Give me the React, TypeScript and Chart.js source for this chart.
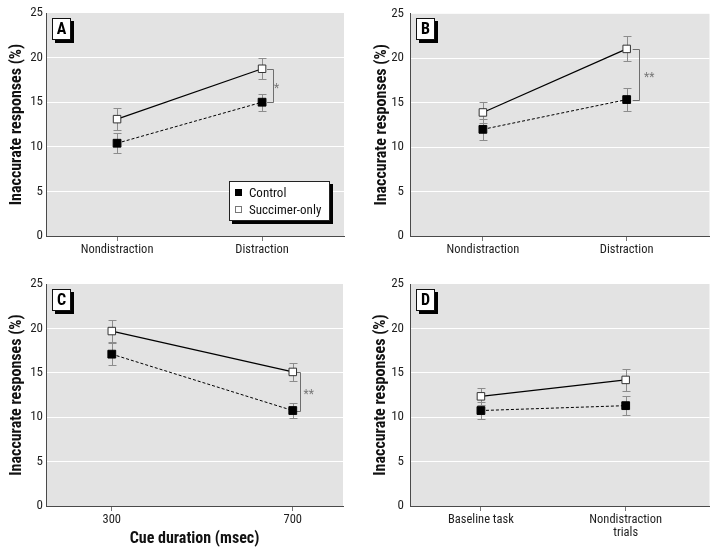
import React, { useEffect, useRef } from 'react';
import { Chart, registerables } from 'chart.js';
Chart.register(...registerables);

const FONT = '"Roboto Condensed", "DejaVu Sans Condensed", "Liberation Sans", Arial, sans-serif';

// ---------- data ----------
const seriesNames = ['Control', 'Succimer-only'];
const yTickValues = [0, 5, 10, 15, 20, 25];
const yAxisTitle = 'Inaccurate responses (%)';
const xAxisTitleC = 'Cue duration (msec)';

const categoriesA = ['Nondistraction', 'Distraction'];
const controlA = [10.4, 15.0];
const controlErrA = [1.1, 0.95];
const succimerA = [13.1, 18.75];
const succimerErrA = [1.2, 1.2];
const sigA = '*';

const categoriesB = ['Nondistraction', 'Distraction'];
const controlB = [12.0, 15.35];
const controlErrB = [1.15, 1.3];
const succimerB = [13.9, 21.05];
const succimerErrB = [1.2, 1.4];
const sigB = '**';

const categoriesC = ['300', '700'];
const controlC = [17.1, 10.75];
const controlErrC = [1.25, 0.8];
const succimerC = [19.7, 15.1];
const succimerErrC = [1.2, 1.0];
const sigC = '**';

const categoriesD: (string | string[])[] = ['Baseline task', ['Nondistraction', 'trials']];
const controlD = [10.75, 11.3];
const controlErrD = [0.95, 1.1];
const succimerD = [12.35, 14.2];
const succimerErrD = [0.95, 1.2];
const sigD = '';

// ---------- styles ----------
const PLOT_BG = '#e3e3e3';
const ERR_COLOR = '#8c8c8c';
const AXIS_COLOR = '#4a4a4a';
const TICK_COLOR = '#1e1e1e';

type Panel = {
  letter: string;
  left: number; top: number; width: number; height: number;
  area: { left: number; right: number; top: number; bottom: number };
  xMin: number; xMax: number;
  categories: (string | string[])[];
  control: number[]; controlErr: number[];
  succimer: number[]; succimerErr: number[];
  sig: string;
  bracketOff: number; bracketTick: number; sigOff: number;
  yTickPad: number; yTitlePad: number;
  xTitle?: string;
  legend?: boolean;
};

const panels: Panel[] = [
  {
    letter: 'A', left: 0, top: 0, width: 358, height: 270,
    area: { left: 46, right: 344, top: 13, bottom: 236 },
    xMin: -0.49, xMax: 1.565, categories: categoriesA,
    control: controlA, controlErr: controlErrA, succimer: succimerA, succimerErr: succimerErrA,
    sig: sigA, bracketOff: 11, bracketTick: 5, sigOff: 14.5, yTickPad: 3, yTitlePad: 7, legend: true,
  },
  {
    letter: 'B', left: 358, top: 0, width: 358, height: 270,
    area: { left: 52, right: 352, top: 13, bottom: 236 },
    xMin: -0.507, xMax: 1.576, categories: categoriesB,
    control: controlB, controlErr: controlErrB, succimer: succimerB, succimerErr: succimerErrB,
    sig: sigB, bracketOff: 12, bracketTick: 6, sigOff: 22.5, yTickPad: 6, yTitlePad: 14,
  },
  {
    letter: 'C', left: 0, top: 270, width: 358, height: 279,
    area: { left: 46, right: 343, top: 14, bottom: 236 },
    xMin: -0.3635, xMax: 1.2775, categories: categoriesC,
    control: controlC, controlErr: controlErrC, succimer: succimerC, succimerErr: succimerErrC,
    sig: sigC, bracketOff: 7.5, bracketTick: 3.5, sigOff: 16, yTickPad: 3, yTitlePad: 7, xTitle: xAxisTitleC,
  },
  {
    letter: 'D', left: 358, top: 270, width: 358, height: 279,
    area: { left: 52, right: 352, top: 14, bottom: 236 },
    xMin: -0.49, xMax: 1.579, categories: categoriesD,
    control: controlD, controlErr: controlErrD, succimer: succimerD, succimerErr: succimerErrD,
    sig: sigD, bracketOff: 0, bracketTick: 0, sigOff: 0, yTickPad: 6, yTitlePad: 13,
  },
];

function PanelChart({ c }: { c: Panel }) {
  const ref = useRef<HTMLCanvasElement>(null);
  useEffect(() => {
    const canvas = ref.current!;
    const bg = {
      id: 'bg',
      beforeDraw(chart: any) {
        const { ctx, chartArea: a } = chart;
        ctx.save();
        ctx.fillStyle = PLOT_BG;
        ctx.fillRect(a.left, a.top, a.right - a.left, a.bottom - a.top);
        ctx.restore();
      },
    };
    const extras = {
      id: 'extras',
      beforeDatasetsDraw(chart: any) {
        const { ctx } = chart;
        const xs = chart.scales.x;
        const ys = chart.scales.y;
        ctx.save();
        ctx.strokeStyle = ERR_COLOR;
        ctx.lineWidth = 1;
        const sets: [number[], number[]][] = [[c.control, c.controlErr], [c.succimer, c.succimerErr]];
        sets.forEach(([vals, es]) => {
          vals.forEach((v, i) => {
            const x = Math.round(xs.getPixelForValue(i)) + 0.5;
            const y1 = Math.round(ys.getPixelForValue(v + es[i])) + 0.5;
            const y2 = Math.round(ys.getPixelForValue(v - es[i])) + 0.5;
            ctx.beginPath();
            ctx.moveTo(x, y1); ctx.lineTo(x, y2);
            ctx.moveTo(x - 4, y1); ctx.lineTo(x + 4, y1);
            ctx.moveTo(x - 4, y2); ctx.lineTo(x + 4, y2);
            ctx.stroke();
          });
        });
        if (c.sig) {
          const xp = xs.getPixelForValue(1);
          const yt = Math.round(ys.getPixelForValue(c.succimer[1])) + 0.5;
          const yb = Math.round(ys.getPixelForValue(c.control[1])) + 0.5;
          const bx = Math.round(xp + c.bracketOff) + 0.5;
          ctx.strokeStyle = '#6e6e6e';
          ctx.beginPath();
          ctx.moveTo(xp + c.bracketTick, yt); ctx.lineTo(bx, yt);
          ctx.lineTo(bx, yb); ctx.lineTo(xp + c.bracketTick, yb);
          ctx.stroke();
          ctx.fillStyle = '#777';
          ctx.font = `12px ${FONT}`;
          ctx.textAlign = 'center';
          ctx.textBaseline = 'middle';
          ctx.fillText(c.sig, xp + c.sigOff, (yt + yb) / 2 + 3);
        }
        ctx.restore();
      },
    };
    const chart = new Chart(canvas, {
      type: 'line',
      data: {
        datasets: [
          {
            label: seriesNames[0],
            data: c.control.map((y, i) => ({ x: i, y })),
            borderColor: '#000', borderWidth: 1, borderDash: [3, 2],
            pointStyle: 'rect', pointRadius: 5.5,
            pointBackgroundColor: '#000', pointBorderColor: '#000', pointBorderWidth: 1,
            fill: false,
          },
          {
            label: seriesNames[1],
            data: c.succimer.map((y, i) => ({ x: i, y })),
            borderColor: '#000', borderWidth: 1.2,
            pointStyle: 'rect', pointRadius: 5.3,
            pointBackgroundColor: '#fff', pointBorderColor: '#333', pointBorderWidth: 1,
            fill: false,
          },
        ],
      } as any,
      options: {
        animation: false,
        responsive: false,
        events: [],
        layout: { padding: { left: 0, top: c.area.top, right: c.width - c.area.right, bottom: 0 } },
        plugins: { legend: { display: false }, tooltip: { enabled: false } },
        scales: {
          x: {
            type: 'linear',
            min: c.xMin, max: c.xMax,
            afterBuildTicks: (s: any) => { s.ticks = [{ value: 0 }, { value: 1 }]; },
            afterFit: (s: any) => { s.height = c.height - c.area.bottom; },
            ticks: {
              callback: (v: any) => c.categories[v as number] as any,
              autoSkip: false, maxRotation: 0, minRotation: 0, padding: 2,
              color: TICK_COLOR,
              font: { family: FONT, size: 12.5, lineHeight: 1.05 },
            },
            grid: { drawOnChartArea: false, drawTicks: true, tickLength: 5, tickColor: '#777', color: '#777' },
            border: { display: true, color: AXIS_COLOR, width: 1 },
            title: c.xTitle
              ? { display: true, text: c.xTitle, color: '#111', font: { family: FONT, size: 16, weight: 'bold' }, padding: { top: 0, bottom: 0 } }
              : { display: false },
          },
          y: {
            min: 0, max: 25,
            afterBuildTicks: (s: any) => { s.ticks = yTickValues.map((v) => ({ value: v })); },
            afterFit: (s: any) => { s.width = c.area.left; },
            ticks: { padding: c.yTickPad, color: TICK_COLOR, font: { family: FONT, size: 13 } },
            grid: {
              drawTicks: false,
              lineWidth: 1,
              color: (ctx: any) => (ctx.tick && ctx.tick.value > 0 && ctx.tick.value < 25 ? '#ffffff' : 'rgba(0,0,0,0)'),
            },
            border: { display: true, color: AXIS_COLOR, width: 1 },
            title: {
              display: true, text: yAxisTitle, color: '#111',
              font: { family: FONT, size: 16, weight: 'bold' },
              padding: { top: c.yTitlePad, bottom: 0 },
            },
          },
        },
      } as any,
      plugins: [bg, extras],
    });
    return () => chart.destroy();
  }, [c]);

  const a = c.area;
  return (
    <div style={{ position: 'absolute', left: c.left, top: c.top, width: c.width, height: c.height }}>
      <canvas ref={ref} width={c.width} height={c.height} style={{ width: c.width, height: c.height, display: 'block' }} />
      <div
        style={{
          position: 'absolute', left: a.left + 6, top: a.top + 5, width: 19, height: 22,
          boxSizing: 'border-box', border: '1px solid #111', background: '#fff',
          boxShadow: '3px 3px 0 #000', fontFamily: FONT, fontWeight: 'bold', fontSize: 16,
          lineHeight: '20px', textAlign: 'center', color: '#000',
        }}
      >
        {c.letter}
      </div>
      {c.legend && (
        <div
          style={{
            position: 'absolute', left: 229, top: 181, width: 101, height: 40,
            boxSizing: 'border-box', border: '1px solid #222', background: '#fff',
            boxShadow: '3px 3px 0 #000', fontFamily: FONT, fontSize: 13, color: '#111',
          }}
        >
          {seriesNames.map((n, i) => (
            <div key={n} style={{ position: 'absolute', left: 0, top: 2 + i * 17, height: 17, width: 99 }}>
              <span
                style={{
                  position: 'absolute', left: 5, top: 5, width: 7, height: 7, boxSizing: 'border-box',
                  background: i === 0 ? '#000' : '#fff', border: i === 0 ? '1px solid #000' : '1px solid #777',
                }}
              />
              <span style={{ position: 'absolute', left: 19, top: 0, lineHeight: '17px', whiteSpace: 'nowrap' }}>{n}</span>
            </div>
          ))}
        </div>
      )}
    </div>
  );
}

export default function App() {
  return (
    <div style={{ position: 'absolute', left: 0, top: 0, width: 716, height: 549, background: '#fff', overflow: 'hidden' }}>
      {panels.map((p) => (
        <PanelChart key={p.letter} c={p} />
      ))}
    </div>
  );
}
